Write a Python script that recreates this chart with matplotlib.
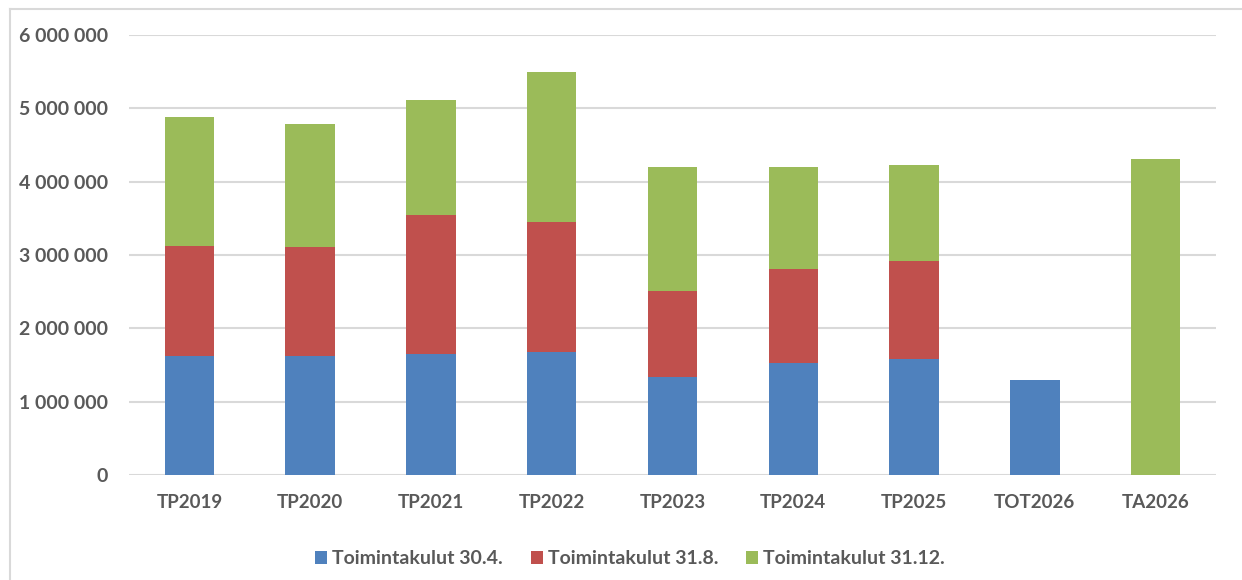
import matplotlib
matplotlib.use("Agg")
import matplotlib.pyplot as plt
from matplotlib.patches import Patch
from matplotlib.lines import Line2D
from matplotlib.ticker import FuncFormatter
import numpy as np

categories = ["TP2019", "TP2020", "TP2021", "TP2022", "TP2023", "TP2024", "TP2025", "TOT2026", "TA2026"]
kulut_30_4 = [1627000, 1627000, 1655000, 1677000, 1336000, 1527000, 1582000, 1295000, 0]
kulut_31_8 = [1496000, 1482000, 1891000, 1773000, 1173000, 1282000, 1336000, 0, 0]
kulut_31_12 = [1759000, 1678000, 1568000, 2046000, 1691000, 1391000, 1309000, 0, 4309000]
series_names = ["Toimintakulut 30.4.", "Toimintakulut 31.8.", "Toimintakulut 31.12."]
colors = ["#4F81BD", "#C0504D", "#9BBB59"]
yticks = [0, 1000000, 2000000, 3000000, 4000000, 5000000, 6000000]

plt.rcParams['font.family'] = ['Lato', 'DejaVu Sans']
txt = "#595959"

fig = plt.figure(figsize=(12.42, 5.8), dpi=100)
ax = fig.add_axes([129/1242, 1-475/580, (1216-129)/1242, (475-35)/580])

x = np.arange(len(categories))
w = 0.41
b1 = np.array(kulut_30_4)
b2 = np.array(kulut_31_8)
b3 = np.array(kulut_31_12)
ax.bar(x, b1, w, color=colors[0], zorder=3)
ax.bar(x, b2, w, bottom=b1, color=colors[1], zorder=3)
ax.bar(x, b3, w, bottom=b1 + b2, color=colors[2], zorder=3)

ax.set_xlim(-0.5, len(categories) - 0.5)
ax.set_ylim(0, 6000000)
ax.set_yticks(yticks)
ax.yaxis.set_major_formatter(FuncFormatter(lambda v, p: f"{int(v):,}".replace(",", " ")))
ax.grid(axis='y', color='#D9D9D9', linewidth=1.5, zorder=0)
for s in ax.spines.values():
    s.set_visible(False)
ax.tick_params(axis='y', length=0, colors=txt, labelsize=14, pad=15)
ax.tick_params(axis='x', length=0, colors=txt, labelsize=13.5, pad=14)
ax.set_xticks(x)
ax.set_xticklabels(categories)
for lab in ax.get_xticklabels() + ax.get_yticklabels():
    lab.set_fontweight('bold')
    lab.set_color(txt)

handles = [Patch(facecolor=c, edgecolor='none') for c in colors]
leg = fig.legend(handles, series_names, loc='center', bbox_to_anchor=(630/1242, 1-559/580),
                 ncol=3, frameon=False, handlelength=0.62, handleheight=0.62,
                 handletextpad=0.25, columnspacing=1.45,
                 prop={'weight': 'bold', 'size': 14})
for t in leg.get_texts():
    t.set_color(txt)

# outer chart border
fig.add_artist(Line2D([10/1242, 10/1242], [0, 1-9/580], transform=fig.transFigure,
                      color='#D9D9D9', linewidth=1.5))
fig.add_artist(Line2D([10/1242, 1], [1-9/580, 1-9/580], transform=fig.transFigure,
                      color='#D9D9D9', linewidth=1.5))

fig.savefig("out.png", dpi=100)
